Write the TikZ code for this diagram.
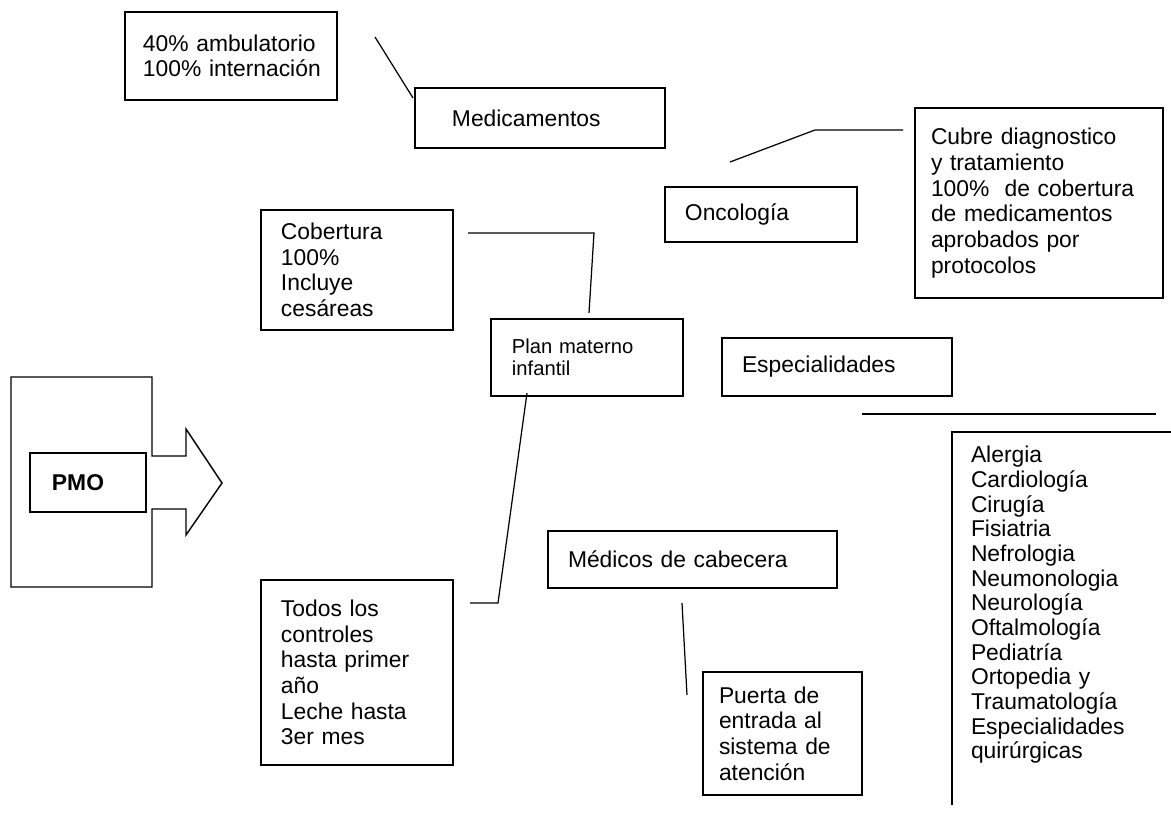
\documentclass[tikz,border=0pt]{standalone}
\usepackage{fontspec}
\setsansfont{Liberation Sans}
\usetikzlibrary{positioning}
\tikzset{
  body/.style={font=\sffamily\fontsize{13}{14.6}\selectfont,align=left},
  small/.style={font=\sffamily\fontsize{11.5}{12.6}\selectfont,align=left},
  box/.style={draw,line width=0.8pt,fill=white,anchor=north west,inner ysep=0pt,outer sep=0pt},
  link/.style={draw,line width=0.7pt}
}
\begin{document}
\begin{tikzpicture}[x=0.02cm,y=-0.02cm]
\path[use as bounding box,fill=white] (0,0) rectangle (1171,814);
% PMO
\draw[line width=0.8pt] (11,377) -- (152,377) -- (152,456) -- (186,456) -- (186,429) -- (222,483) -- (186,535) -- (186,509) -- (152,509) -- (152,587) -- (11,587) -- cycle;
\node[box,body,font=\sffamily\bfseries\fontsize{13}{14.6}\selectfont,minimum width=2.32cm,minimum height=1.18cm,text width=1.44cm,inner xsep=0.44cm] (pmo) at (30,453) {PMO};
% medicamentos
\node[box,body,minimum width=4.24cm,minimum height=1.76cm,text width=3.52cm,inner xsep=0.36cm] (amb) at (125,12) {\mbox{40\% ambulatorio}\\\mbox{100\% internación}\\[4pt]};
\node[box,body,minimum width=5.0cm,minimum height=1.2cm,text width=3.52cm,inner xsep=0.74cm] (med) at (415,88) {Medicamentos};
\coordinate (ambA) at (375,37); \coordinate (ambB) at (413,98);
\draw[link] (ambA) -- (ambB);
% oncologia
\node[box,body,minimum width=3.84cm,minimum height=1.1cm,text width=3.04cm,inner xsep=0.4cm] (onco) at (665,187) {Oncología};
\node[box,body,minimum width=4.96cm,minimum height=3.8cm,text width=4.32cm,inner xsep=0.32cm] (cubre) at (915,108) {Cubre diagnostico\\y tratamiento\\100\%\ \ de cobertura\\de medicamentos\\aprobados por\\protocolos};
\coordinate (oncoA) at (730,162); \coordinate (oncoB) at (815,130); \coordinate (oncoC) at (903,130);
\draw[link] (oncoA) -- (oncoB) -- (oncoC);
% plan materno infantil
\node[box,body,minimum width=3.84cm,minimum height=2.4cm,text width=3.04cm,inner xsep=0.4cm] (cob) at (261,210) {Cobertura\\100\%\\Incluye\\cesáreas};
\node[box,small,minimum width=3.84cm,minimum height=1.54cm,text width=3.0cm,inner xsep=0.42cm] (plan) at (491,319) {Plan materno\\infantil};
\node[box,body,minimum width=3.84cm,minimum height=3.7cm,text width=3.04cm,inner xsep=0.4cm] (todos) at (261,580) {Todos los\\controles\\hasta primer\\año\\Leche hasta\\3er mes};
\coordinate (cobA) at (468,233); \coordinate (cobB) at (594,233); \coordinate (cobC) at (589,313);
\draw[link] (cobA) -- (cobB) -- (cobC);
\coordinate (todA) at (527,393); \coordinate (todB) at (498,603); \coordinate (todC) at (470,603);
\draw[link] (todA) -- (todB) -- (todC);
% especialidades
\node[box,body,minimum width=4.6cm,minimum height=1.16cm,text width=3.8cm,inner xsep=0.4cm] (esp) at (722,338) {Especialidades};
\coordinate (espA) at (862,414); \coordinate (espB) at (1156,414);
\draw[link] (espA) -- (espB);
\node[body,font=\sffamily\fontsize{13}{14.05}\selectfont,anchor=north west,minimum width=4.38cm,minimum height=6.92cm,text width=3.62cm,inner xsep=0.38cm,inner ysep=0pt,outer sep=0pt] (lista) at (952,432) {Alergia\\Cardiología\\Cirugía\\Fisiatria\\Nefrologia\\Neumonologia\\Neurología\\Oftalmología\\Pediatría\\Ortopedia y\\Traumatología\\Especialidades\\quirúrgicas};
\coordinate (listaEnd) at (952,805);
\draw[line width=0.8pt] (listaEnd) |- (lista.north east);
% medicos de cabecera
\node[box,body,minimum width=5.78cm,minimum height=1.14cm,text width=4.98cm,inner xsep=0.4cm] (cab) at (548,531) {Médicos de cabecera};
\node[box,body,minimum width=3.18cm,minimum height=2.46cm,text width=2.54cm,inner xsep=0.32cm] (puerta) at (703,672) {Puerta de\\entrada al\\sistema de\\atención};
\coordinate (cabA) at (682,603); \coordinate (cabB) at (687,695);
\draw[link] (cabA) -- (cabB);
\end{tikzpicture}
\end{document}
